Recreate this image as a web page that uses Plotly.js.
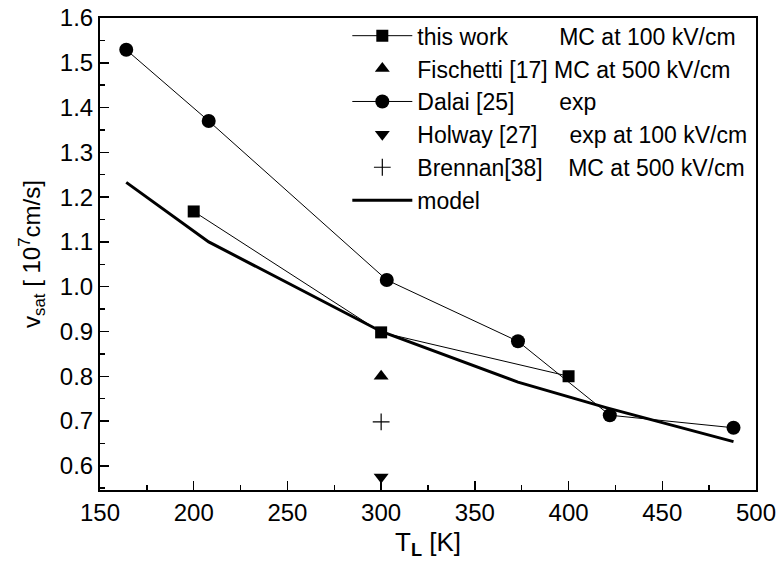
<!DOCTYPE html>
<html>
<head>
<meta charset="utf-8">
<script src="https://cdn.plot.ly/plotly-3.0.1.min.js"></script>
<style>html,body{margin:0;padding:0;background:#fff;}#chart{width:780px;height:566px;}</style>
</head>
<body>
<div id="chart"></div>
<script>
// Data
const thisWorkT = [200, 300, 400];
const thisWorkV = [1.168, 0.898, 0.80];

const fischettiT = [300];
const fischettiV = [0.80];

const dalaiT = [164, 208, 303, 373, 422, 488];
const dalaiV = [1.529, 1.37, 1.015, 0.878, 0.713, 0.685];

const holwayT = [300];
const holwayV = [0.575];

const brennanT = [300];
const brennanV = [0.698];

const modelT = [164, 208, 300, 373, 420, 488];
const modelV = [1.233, 1.10, 0.90, 0.787, 0.73, 0.654];

const NB = '\u00a0';
const names = [
  'this work' + NB.repeat(8) + 'MC at 100 kV/cm',
  'Fischetti [17] MC at 500 kV/cm',
  'Dalai [25]' + NB.repeat(7) + 'exp',
  'Holway [27]' + NB.repeat(5) + 'exp at 100 kV/cm',
  'Brennan[38]' + NB.repeat(4) + 'MC at 500 kV/cm',
  'model'
];

const font = "'Liberation Sans', Arial, Helvetica, sans-serif";

const traces = [
  {x: thisWorkT, y: thisWorkV, name: names[0], mode: 'lines+markers', legendgroup: 'a',
   line: {color: '#000', width: 1}, marker: {symbol: 'square', size: 12, color: '#000'}},
  {x: fischettiT, y: fischettiV, name: names[1], mode: 'markers', legendgroup: 'b',
   marker: {symbol: 'triangle-up', size: 13, color: '#000'}},
  {x: dalaiT, y: dalaiV, name: names[2], mode: 'lines+markers', legendgroup: 'c',
   line: {color: '#000', width: 1}, marker: {symbol: 'circle', size: 14, color: '#000'}},
  {x: holwayT, y: holwayV, name: names[3], mode: 'markers', legendgroup: 'd',
   marker: {symbol: 'triangle-down', size: 13, color: '#000'}},
  {x: brennanT, y: brennanV, name: names[4], mode: 'markers', legendgroup: 'e',
   marker: {symbol: 'cross-thin-open', size: 12, color: '#000', line: {color: '#000', width: 1.2}}},
  {x: modelT, y: modelV, name: names[5], mode: 'lines', legendgroup: 'f',
   line: {color: '#000', width: 3}}
];

const layout = {
  width: 780, height: 566,
  margin: {l: 100, r: 24, t: 18, b: 76},
  paper_bgcolor: '#fff', plot_bgcolor: '#fff',
  font: {family: font, size: 24, color: '#000'},
  showlegend: true,
  legend: {x: 0.377, y: 1.008, xanchor: 'left', yanchor: 'top', bgcolor: 'rgba(0,0,0,0)',
           font: {family: font, size: 23, color: '#000'}, itemwidth: 60,
           traceorder: 'grouped', tracegroupgap: 0},
  xaxis: {
    range: [150, 500], tick0: 150, dtick: 50, ticks: 'inside', ticklen: 9, tickwidth: 1.5,
    tickcolor: '#000', showline: true, linecolor: '#000', linewidth: 2, mirror: true,
    showgrid: false, zeroline: false, tickfont: {size: 24},
    minor: {dtick: 25, ticks: 'inside', ticklen: 5, tickwidth: 1.5, tickcolor: '#000', showgrid: false},
    title: {text: 'T<sub><b>L</b></sub> [K]', font: {size: 26}, standoff: 8}
  },
  yaxis: {
    range: [0.546, 1.6], tick0: 0.6, dtick: 0.1, tickformat: '.1f', ticks: 'inside', ticklen: 9, tickwidth: 1.5,
    tickcolor: '#000', showline: true, linecolor: '#000', linewidth: 2, mirror: true,
    showgrid: false, zeroline: false, tickfont: {size: 24},
    minor: {dtick: 0.05, ticks: 'inside', ticklen: 5, tickwidth: 1.5, tickcolor: '#000', showgrid: false},
    title: {text: 'v<sub>sat</sub> [ 10<sup>7</sup>cm/s]', font: {size: 24}, standoff: 12}
  }
};

Plotly.newPlot('chart', traces, layout, {staticPlot: true, displayModeBar: false});
</script>
</body>
</html>
